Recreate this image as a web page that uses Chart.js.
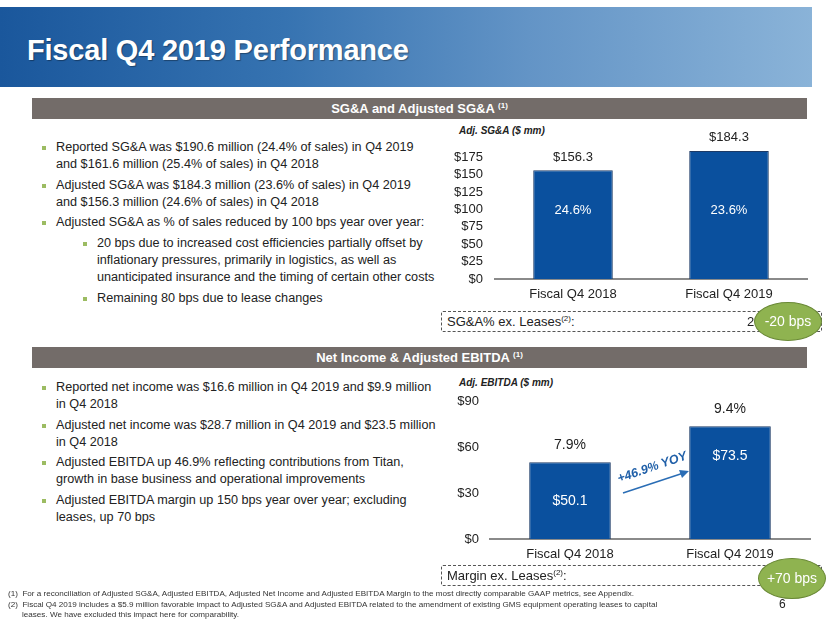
<!DOCTYPE html>
<html>
<head>
<meta charset="utf-8">
<script src="https://cdn.jsdelivr.net/npm/chart.js@4"></script>
<style>
  body { margin: 0; background: #fff; font-family: 'Liberation Sans', Arial, sans-serif; color: #222; }
  #slide { position: relative; width: 830px; height: 623px; overflow: hidden; }
  .abs { position: absolute; }
  #banner { left: 0; top: 7px; width: 812px; height: 80px;
    background: linear-gradient(90deg, #1a579c 0%, #3673b1 35%, #6394c6 65%, #8ab3d8 100%); }
  #banner h1 { margin: 0; position: absolute; left: 27px; top: 27px; font-size: 29px; font-weight: bold; color: #fff;
    letter-spacing: -0.2px; text-shadow: 1px 1px 1px rgba(0,0,0,0.35); }
  .section { left: 32px; width: 775px; height: 21px; background: #736c69; color: #fff; font-weight: bold;
    font-size: 13px; line-height: 21px; text-align: center; }
  sup { font-size: 8px; vertical-align: 5px; line-height: 0; }
  .bullets { left: 56px; font-size: 12.65px; line-height: 17px; white-space: nowrap; }
  .bullets div { position: relative; margin-bottom: 3.5px; }
  .bullets div::before { content: ''; position: absolute; left: -14px; top: 7px; width: 4px; height: 4px; background: #9cbc62; }
  .bullets div.sub { margin-left: 41px; margin-top: 4px; }
  .axis-title { font-size: 10px; font-weight: bold; font-style: italic; left: 459px; }
  .dashbox { left: 441px; width: 374px; height: 19px; border: 1px dashed #555; border-radius: 2px;
    font-size: 13px; line-height: 19px; padding-left: 5px; box-sizing: content-box; }
  .badge { width: 66px; height: 37px; border-radius: 50%; background: #8fb350; border: 1px solid #6a8937;
    color: #fff; font-size: 14px; text-align: center; line-height: 37px; }
  .foot { left: 8px; font-size: 8.1px; line-height: 10.5px; color: #333; white-space: nowrap; }
  .foot div { padding-left: 14px; text-indent: -14px; }
  canvas { position: absolute; }
</style>
</head>
<body>
<div id="slide">
  <div id="banner" class="abs"><h1>Fiscal Q4 2019 Performance</h1></div>

  <div class="abs section" style="top:98px;">SG&amp;A and Adjusted SG&amp;A <sup>(1)</sup></div>
  <div class="abs bullets" style="top:139px;">
    <div>Reported SG&amp;A was $190.6 million (24.4% of sales) in Q4 2019<br>and $161.6 million (25.4% of sales) in Q4 2018</div>
    <div>Adjusted SG&amp;A was $184.3 million (23.6% of sales) in Q4 2019<br>and $156.3 million (24.6% of sales) in Q4 2018</div>
    <div>Adjusted SG&amp;A as % of sales reduced by 100 bps year over year:</div>
    <div class="sub">20 bps due to increased cost efficiencies partially offset by<br>inflationary pressures, primarily in logistics, as well as<br>unanticipated insurance and the timing of certain other costs</div>
    <div class="sub">Remaining 80 bps due to lease changes</div>
  </div>

  <div class="abs axis-title" style="top:125px;">Adj. SG&amp;A ($ mm)</div>
  <canvas id="sgaChart" width="390" height="185" style="left:430px; top:120px;"></canvas>
  <div class="abs dashbox" style="top:311px;">SG&amp;A% ex. Leases<sup>(2)</sup>:<span class="abs" style="left:305px;">20 bps</span></div>
  <div class="abs badge" style="left:754px; top:302px;">-20 bps</div>

  <div class="abs section" style="top:347px;">Net Income &amp; Adjusted EBITDA <sup>(1)</sup></div>
  <div class="abs bullets" style="top:379px;">
    <div>Reported net income was $16.6 million in Q4 2019 and $9.9 million<br>in Q4 2018</div>
    <div>Adjusted net income was $28.7 million in Q4 2019 and $23.5 million<br>in Q4 2018</div>
    <div>Adjusted EBITDA up 46.9% reflecting contributions from Titan,<br>growth in base business and operational improvements</div>
    <div>Adjusted EBITDA margin up 150 bps year over year; excluding<br>leases, up 70 bps</div>
  </div>

  <div class="abs axis-title" style="top:377px;">Adj. EBITDA ($ mm)</div>
  <canvas id="ebitdaChart" width="395" height="180" style="left:430px; top:380px;"></canvas>
  <svg class="abs" style="left:0; top:0;" width="830" height="623">
    <line x1="623" y1="493" x2="682" y2="473.5" stroke="#2a6db5" stroke-width="1.5"/>
    <polygon points="689,471 679,470 682,478" fill="#2a6db5"/>
  </svg>
  <div class="abs" style="left:613px; top:460px; width:78px; text-align:center; transform:rotate(-19deg);
    color:#1f5fa8; font-weight:bold; font-style:italic; font-size:12.5px; white-space:nowrap;">+46.9% YOY</div>
  <div class="abs dashbox" style="top:565px;">Margin ex. Leases<sup>(2)</sup>:</div>
  <div class="abs badge" style="left:758px; top:558px; height:39px; line-height:39px;">+70 bps</div>

  <div class="abs foot" style="top:589px;">
    <div>(1)&nbsp; For a reconciliation of Adjusted SG&amp;A, Adjusted EBITDA, Adjusted Net Income and Adjusted EBITDA Margin to the most directly comparable GAAP metrics, see Appendix.</div>
    <div>(2)&nbsp; Fiscal Q4 2019 includes a $5.9 million favorable impact to Adjusted SG&amp;A and Adjusted EBITDA related to the amendment of existing GMS equipment operating leases to capital<br>leases. We have excluded this impact here for comparability.</div>
  </div>
  <div class="abs" style="left:779px; top:597px; font-size:12px;">6</div>
</div>

<script>
// Adjusted SG&A and Adjusted EBITDA, $ mm
const categories = ['Fiscal Q4 2018', 'Fiscal Q4 2019'];
const sgaValues = [156.3, 184.3];
const sgaPctOfSales = ['24.6%', '23.6%'];
const ebitdaValues = [50.1, 73.5];
const ebitdaMargins = ['7.9%', '9.4%'];

const BAR_FILL = '#0a509e';
const BAR_EDGE = '#1c3a66';

Chart.defaults.font.family = "'Liberation Sans', Arial, sans-serif";
Chart.defaults.font.size = 13;
Chart.defaults.color = '#222';

// draws one label above each bar and one inside it
const barLabels = {
  id: 'barLabels',
  afterDatasetsDraw(chart, args, opts) {
    const { ctx } = chart;
    const meta = chart.getDatasetMeta(0);
    const yScale = chart.scales.y;
    ctx.save();
    ctx.font = `${opts.size || 13}px 'Liberation Sans', Arial, sans-serif`;
    ctx.textAlign = 'center';
    ctx.textBaseline = 'middle';
    meta.data.forEach((bar, i) => {
      ctx.fillStyle = '#222';
      ctx.fillText(opts.above[i], bar.x, bar.y - opts.gap);
      ctx.fillStyle = '#fff';
      ctx.fillText(opts.inside[i], bar.x, yScale.getPixelForValue(opts.insideAt[i]));
    });
    ctx.restore();
  }
};

function makeBarChart(id, values, yOpts, labelOpts, padding, yWidth, xHeight) {
  return new Chart(document.getElementById(id), {
    type: 'bar',
    data: {
      labels: categories,
      datasets: [{ data: values, backgroundColor: BAR_FILL, borderColor: BAR_EDGE, borderWidth: 1,
        barPercentage: 0.51, categoryPercentage: 1 }]
    },
    options: {
      responsive: false,
      animation: false,
      layout: { padding },
      plugins: { legend: { display: false }, tooltip: { enabled: false }, barLabels: labelOpts },
      scales: {
        x: {
          grid: { display: false, drawTicks: false },
          border: { display: true, color: '#8a8a8a', width: 2 },
          ticks: { padding: 8 },
          afterFit: s => { s.height = xHeight; }
        },
        y: Object.assign({
          grid: { display: false, drawTicks: false },
          border: { display: false },
          afterFit: s => { s.width = yWidth; }
        }, yOpts)
      }
    },
    plugins: [barLabels]
  });
}

makeBarChart('sgaChart', sgaValues,
  { min: 0, max: 200, ticks: { stepSize: 25, padding: 12, autoSkip: false, callback: v => v > 175 ? '' : '$' + v } },
  { above: sgaValues.map(v => '$' + v.toFixed(1)), inside: sgaPctOfSales, insideAt: [98, 98], gap: 13 },
  { left: 5, right: 13, top: 20, bottom: 0 }, 60, 26);

makeBarChart('ebitdaChart', ebitdaValues,
  { min: 0, max: 90, ticks: { stepSize: 30, padding: 11, autoSkip: false, callback: v => '$' + v } },
  { above: ebitdaMargins, inside: ebitdaValues.map(v => '$' + v.toFixed(1)), insideAt: [24.8, 54], gap: 17, size: 14 },
  { left: 5, right: 15, top: 21, bottom: 0 }, 55, 21);
</script>
</body>
</html>
